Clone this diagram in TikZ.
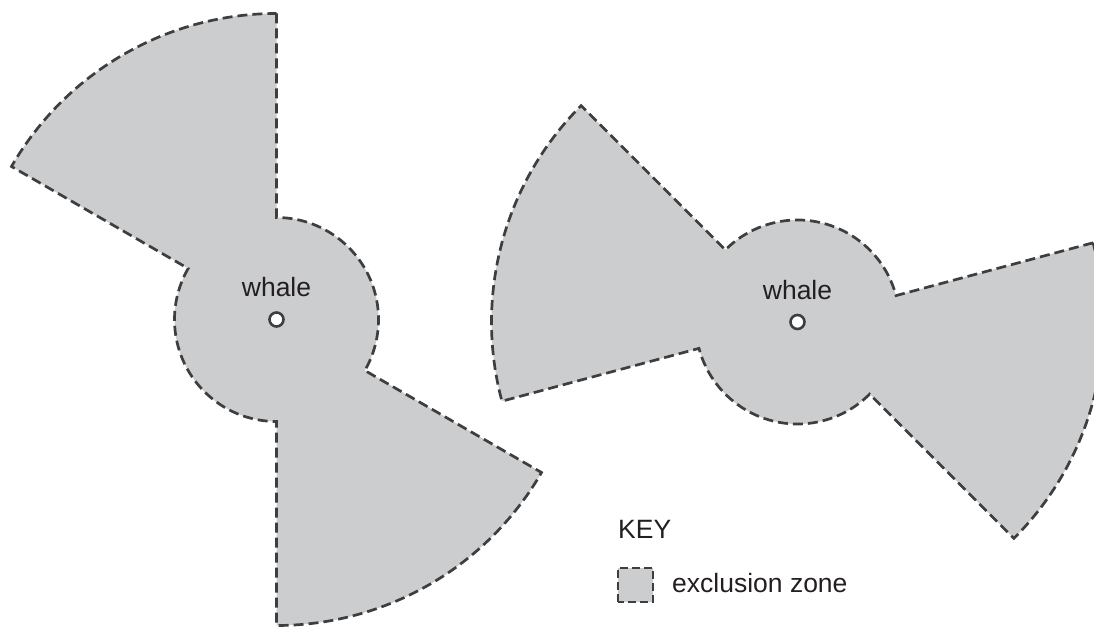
\documentclass[tikz,border=0pt]{standalone}
\usepackage{fontspec}
\setmainfont{Liberation Sans}
\usetikzlibrary{calc}
\definecolor{zonefill}{HTML}{CCCDCF}
\definecolor{zoneline}{HTML}{3E3E3E}
\definecolor{txt}{HTML}{231F20}
\tikzset{
  zone/.style={fill=zonefill, draw=zoneline, line width=2.7pt, dash pattern=on 10pt off 5pt},
  keybox/.style={fill=zonefill, draw=zoneline, line width=2.7pt, dash pattern=on 8pt off 4pt},
  whaledot/.style={circle, draw=zoneline, fill=white, line width=2.6pt, minimum size=14pt, inner sep=0pt},
  lbl/.style={text=txt, inner sep=0pt, font=\fontsize{26.5}{31}\selectfont}
}
\begin{document}
\begin{tikzpicture}[x=1pt,y=1pt]
\useasboundingbox (0,0) rectangle (1094,626);
\def\Rb{306}
\def\rs{102}
% left zone
\coordinate (L) at (276.5,306.5);
\path[zone] ($(L)+(90:\Rb)$) -- ($(L)+(90:\rs)$)
  arc[start angle=90,end angle=-30,radius=\rs]
  -- ($(L)+(-30:\Rb)$)
  arc[start angle=-30,end angle=-90,radius=\Rb]
  -- ($(L)+(-90:\rs)$)
  arc[start angle=-90,end angle=-210,radius=\rs]
  -- ($(L)+(150:\Rb)$)
  arc[start angle=150,end angle=90,radius=\Rb]
  -- cycle;
% right zone
\coordinate (R) at (797.5,304);
\path[zone] ($(R)+(15:\Rb)$) -- ($(R)+(15:\rs)$)
  arc[start angle=15,end angle=135,radius=\rs]
  -- ($(R)+(135:\Rb)$)
  arc[start angle=135,end angle=195,radius=\Rb]
  -- ($(R)+(195:\rs)$)
  arc[start angle=195,end angle=315,radius=\rs]
  -- ($(R)+(315:\Rb)$)
  arc[start angle=315,end angle=375,radius=\Rb]
  -- cycle;
% whales
\node[whaledot] (wL) at (L) {};
\node[whaledot] (wR) at (R) {};
\node[lbl, anchor=base] (tL) at (276.5,329) {whale};
\node[lbl, anchor=base] (tR) at (797.5,326) {whale};
% key
\node[lbl, anchor=base west] (key) at (618,87) {KEY};
\path[keybox] (618,24) rectangle (653,58);
\node[lbl, anchor=base west] (ez) at (672,33) {exclusion zone};
\end{tikzpicture}
\end{document}
